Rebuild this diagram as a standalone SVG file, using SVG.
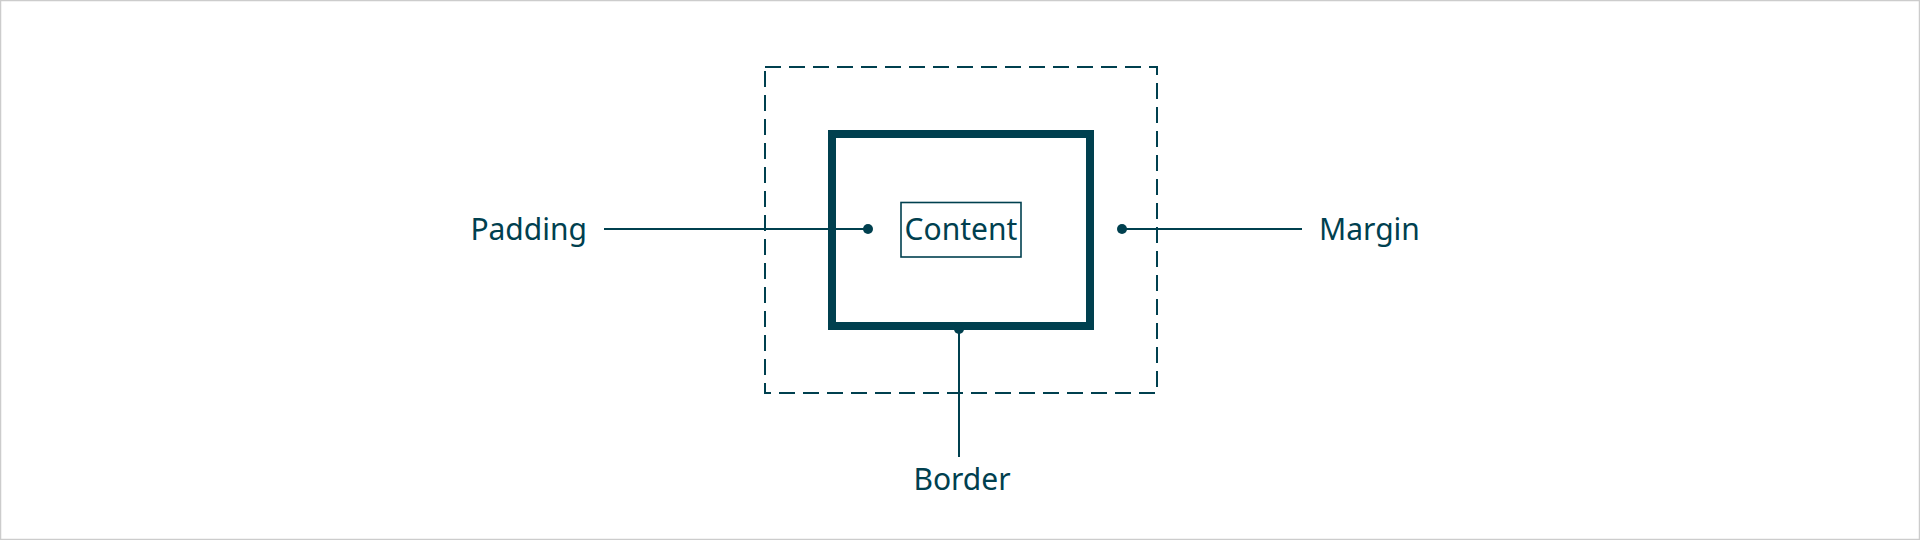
<svg xmlns="http://www.w3.org/2000/svg" width="1920" height="540" viewBox="0 0 1920 540">
  <style>
    .lbl { font-family: "Noto Sans", "Open Sans", sans-serif; font-size: 30px; fill: #00404f; }
    .ln { stroke: #00404f; stroke-width: 2; fill: none; }
    .dot { fill: #00404f; }
  </style>
  <rect x="0" y="0" width="1920" height="540" fill="#ffffff"/>
  <rect x="0.5" y="0.5" width="1919" height="539" fill="none" stroke="#cccccc" stroke-width="1.5"/>
  <g id="margin-box">
    <rect x="765" y="67" width="392" height="326" fill="none" stroke="#00404f" stroke-width="2" stroke-dasharray="16 8"/>
  </g>
  <g id="border-box">
    <rect x="832" y="134" width="258" height="192" fill="none" stroke="#00404f" stroke-width="8"/>
  </g>
  <g id="content">
    <rect x="901" y="202.5" width="120" height="54.5" fill="none" stroke="#00404f" stroke-width="1.6"/>
    <text class="lbl" x="961" y="239.5" text-anchor="middle">Content</text>
  </g>
  <g id="connectors">
    <line class="ln" x1="604" y1="229" x2="868" y2="229"/>
    <circle class="dot" cx="868" cy="229" r="5"/>
    <line class="ln" x1="1122" y1="229" x2="1302" y2="229"/>
    <circle class="dot" cx="1122" cy="229" r="5"/>
    <line class="ln" x1="959" y1="329" x2="959" y2="457"/>
    <circle class="dot" cx="959" cy="329" r="5"/>
  </g>
  <g id="padding-label">
    <text class="lbl" x="587" y="239.5" text-anchor="end">Padding</text>
  </g>
  <g id="margin-label">
    <text class="lbl" x="1319" y="239.5">Margin</text>
  </g>
  <g id="border-label">
    <text class="lbl" x="962" y="489.5" text-anchor="middle">Border</text>
  </g>
</svg>
